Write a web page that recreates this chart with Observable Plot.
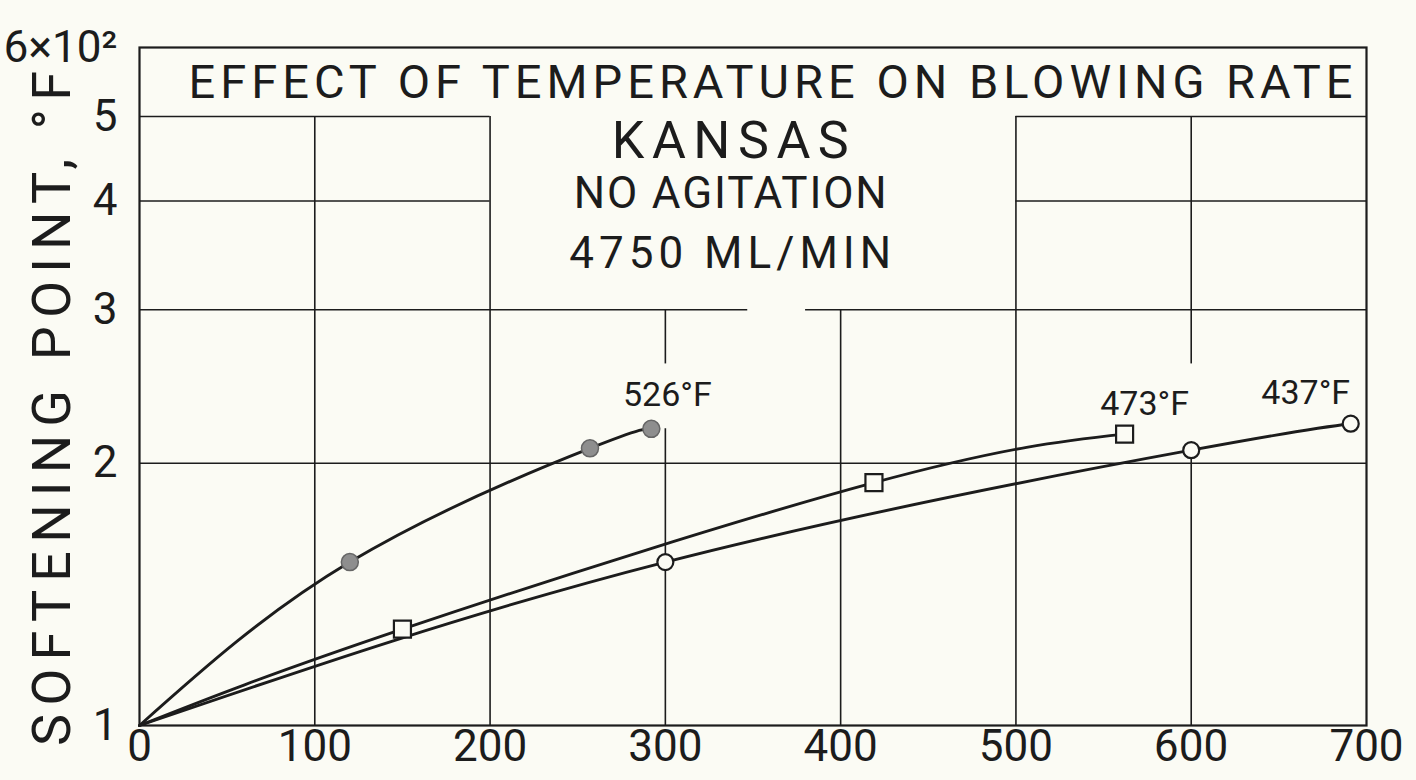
<!DOCTYPE html>
<html>
<head>
<meta charset="utf-8">
<script src="https://cdn.jsdelivr.net/npm/d3@7"></script>
<script src="https://cdn.jsdelivr.net/npm/@observablehq/plot@0.6"></script>
<style>
  html, body { margin: 0; padding: 0; background: #fbfbf4; }
  #chart svg { display: block; }
  #chart g[aria-label="x-axis tick label"], #chart g[aria-label="y-axis tick label"] { font-size: 44px; }
</style>
</head>
<body>
<div id="chart"></div>
<script>
// Softening point (×10² °F) against blowing time, Kansas asphalt, no agitation, 4750 ml/min air
const seriesNames = ["526°F", "473°F", "437°F"];

const time526 = [0, 120, 257, 292];
const soft526 = [1.00, 1.54, 2.08, 2.19];

const time473 = [0, 150, 419, 562];
const soft473 = [1.00, 1.29, 1.90, 2.16];

const time437 = [0, 300, 600, 691];
const soft437 = [1.00, 1.54, 2.07, 2.22];

const xTicks = [0, 100, 200, 300, 400, 500, 600, 700];
const yTicks = [1, 2, 3, 4, 5, 6];
const yTickLabels = ["1", "2", "3", "4", "5", "6×10²"];

const titleLines = ["EFFECT OF TEMPERATURE ON BLOWING RATE", "KANSAS", "NO AGITATION", "4750 ML/MIN"];
const yLabel = "SOFTENING POINT, °F";

// long-format rows for the curves and markers
const seriesTimes = [time526, time473, time437];
const seriesSoft = [soft526, soft473, soft437];
const rows = seriesNames.flatMap((name, i) =>
  seriesTimes[i].map((t, j) => ({series: name, t, sp: seriesSoft[i][j], first: j === 0, last: j === seriesTimes[i].length - 1}))
);
const markers = rows.filter(d => !d.first);
const ends = rows.filter(d => d.last);

// broken grid: lines are interrupted where the lettering sits
const hGrid = [
  {y: 5, x1: 0, x2: 200}, {y: 5, x1: 500, x2: 700},
  {y: 4, x1: 0, x2: 200}, {y: 4, x1: 500, x2: 700},
  {y: 3, x1: 0, x2: 347}, {y: 3, x1: 380, x2: 700},
  {y: 2, x1: 0, x2: 700}
];
const vGrid = [
  {x: 100, y1: 1, y2: 5}, {x: 200, y1: 1, y2: 5},
  {x: 300, y1: 1, y2: 2.19}, {x: 300, y1: 2.6, y2: 3},
  {x: 400, y1: 1, y2: 3}, {x: 500, y1: 1, y2: 5},
  {x: 600, y1: 1, y2: 2.07}, {x: 600, y1: 2.6, y2: 5}
];

const INK = "#1c1c1c";
const PAPER = "#fbfbf4";
const FONT = "Roboto, 'Liberation Sans', sans-serif";

const labelOffsets = {"526°F": [16, -34], "473°F": [20, -30], "437°F": [-45, -31]};

const chart = Plot.plot({
  width: 1416,
  height: 780,
  marginLeft: 139,
  marginRight: 50,
  marginTop: 47,
  marginBottom: 55,
  style: {background: PAPER, fontFamily: FONT, color: INK},
  x: {domain: [0, 700], label: null},
  y: {type: "log", domain: [1, 6], label: null},
  marks: [
    Plot.ruleY(hGrid, {y: "y", x1: "x1", x2: "x2", stroke: INK, strokeWidth: 1.6}),
    Plot.ruleX(vGrid, {x: "x", y1: "y1", y2: "y2", stroke: INK, strokeWidth: 1.6}),
    Plot.frame({stroke: INK, strokeWidth: 2.2}),
    Plot.line(rows, {x: "t", y: "sp", z: "series", curve: "natural", stroke: INK, strokeWidth: 2.9}),
    Plot.dot(markers.filter(d => d.series === "526°F"), {x: "t", y: "sp", r: 8.5, fill: "#8e8e8e", stroke: "#666", strokeWidth: 1.5}),
    Plot.dot(markers.filter(d => d.series === "473°F"), {x: "t", y: "sp", symbol: "square", r: 9.6, fill: PAPER, stroke: INK, strokeWidth: 2.2}),
    Plot.dot(markers.filter(d => d.series === "437°F"), {x: "t", y: "sp", r: 8, fill: PAPER, stroke: INK, strokeWidth: 2.2}),
    ...ends.map(d => Plot.text([d], {
      x: "t", y: "sp", text: "series",
      dx: labelOffsets[d.series][0], dy: labelOffsets[d.series][1],
      fontSize: 34, fill: INK
    })),
    Plot.text([titleLines[0]], {x: 360, y: 5.47, text: d => d, fontSize: 47, fill: INK}),
    Plot.text([titleLines[1]], {x: 337, y: 4.68, text: d => d, fontSize: 52, fill: INK}),
    Plot.text([titleLines[2]], {x: 337, y: 4.07, text: d => d, fontSize: 44, fill: INK}),
    Plot.text([titleLines[3]], {x: 337, y: 3.48, text: d => d, fontSize: 44, fill: INK}),
    Plot.text([yLabel], {frameAnchor: "left", textAnchor: "middle", text: d => d, rotate: -90, dx: -87, dy: 22, fontSize: 54, fill: INK}),
    Plot.axisX({ticks: xTicks, tickSize: 0, tickPadding: 4, fill: INK}),
    Plot.axisY({ticks: yTicks, tickFormat: d => yTickLabels[yTicks.indexOf(d)], tickSize: 0, tickPadding: 22, fill: INK})
  ]
});

// stretch the lettering to its hand-drawn widths
const letterWidths = {
  "EFFECT OF TEMPERATURE ON BLOWING RATE": 1164,
  "KANSAS": 237,
  "NO AGITATION": 313,
  "4750 ML/MIN": 322,
  "SOFTENING POINT, °F": 675
};
d3.select(chart).selectAll("text").each(function() {
  const w = letterWidths[this.textContent];
  if (w) {
    this.setAttribute("textLength", w);
    this.setAttribute("lengthAdjust", "spacing");
  }
});
// tick lettering matches the hand-drawn numerals
d3.select(chart).selectAll('g[aria-label="x-axis tick label"], g[aria-label="y-axis tick label"]').attr("font-size", 44);

document.getElementById("chart").append(chart);
</script>
</body>
</html>
